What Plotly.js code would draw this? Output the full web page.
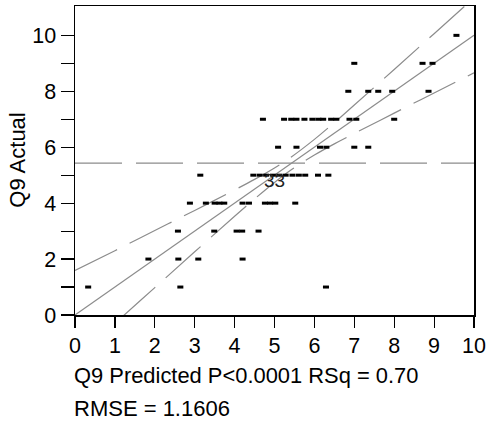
<!DOCTYPE html>
<html>
<head>
<meta charset="utf-8">
<script src="https://cdn.plot.ly/plotly-3.0.1.min.js"></script>
<style>html,body{margin:0;padding:0;background:#fff;}#chart{width:486px;height:423px;}</style>
</head>
<body>
<div id="chart"></div>
<script>
// Points: predicted (x) and actual (y)
const predicted = [
  0.33, 2.64, 6.29,
  1.84, 2.59, 3.09, 4.20,
  2.58, 3.49, 4.05, 4.19, 4.60,
  2.88, 3.28, 3.50, 3.62, 3.74, 4.20, 4.36, 4.76, 4.89, 5.02, 5.52,
  3.14, 4.47, 4.63, 4.79, 4.96, 5.12, 5.28, 5.45, 5.61, 5.77, 6.09, 6.35,
  5.09, 5.55, 6.14, 6.30, 7.00, 7.35,
  4.71, 5.24, 5.42, 5.55, 5.75, 5.95, 6.10, 6.22, 6.42, 6.55, 6.88, 7.05, 8.00,
  6.85, 7.35, 7.60, 7.95, 8.86,
  7.00, 8.71, 8.96,
  9.56
];
const actual = [
  1, 1, 1,
  2, 2, 2, 2,
  3, 3, 3, 3, 3,
  4, 4, 4, 4, 4, 4, 4, 4, 4, 4, 4,
  5, 5, 5, 5, 5, 5, 5, 5, 5, 5, 5, 5,
  6, 6, 6, 6, 6, 6,
  7, 7, 7, 7, 7, 7, 7, 7, 7, 7, 7, 7, 7,
  8, 8, 8, 8, 8,
  9, 9, 9,
  10
];
// Fit line (actual = predicted)
const fitX = [0, 10];
const fitY = [0, 10];
// Mean of actual
const meanX = [0, 10];
const meanY = [5.43, 5.43];
// Confidence curves
const bandX = [0, 1, 2, 3, 4, 4.5, 5, 5.43, 6, 6.5, 7, 8, 9, 10];
const bandUpper = [1.59, 2.30, 3.02, 3.74, 4.47, 4.85, 5.26, 5.66, 6.28, 6.88, 7.51, 8.78, 10.06, 11.34];
const bandLower = [-1.59, -0.30, 0.98, 2.26, 3.53, 4.15, 4.74, 5.20, 5.72, 6.12, 6.49, 7.22, 7.94, 8.66];
// Tick labels
const xTicks = [0,1,2,3,4,5,6,7,8,9,10];
const yTicks = [0,1,2,3,4,5,6,7,8,9,10];
const yTickText = ['0','','2','','4','','6','','8','','10'];
const xLabelLine1 = 'Q9 Predicted P<0.0001 RSq = 0.70';
const xLabelLine2 = 'RMSE = 1.1606';
const yLabel = 'Q9 Actual';
const pointLabel = '33';

const FONT = 'Liberation Sans, Arial, Helvetica, sans-serif';
const GRAY = '#8c8c8c';
const DASH = '47px,14px';

const traces = [
  {x: meanX, y: meanY, mode: 'lines', line: {color: GRAY, width: 1.2, dash: DASH}, hoverinfo: 'skip'},
  {x: bandX, y: bandUpper, mode: 'lines', line: {color: GRAY, width: 1.2, dash: DASH, shape: 'spline'}, hoverinfo: 'skip'},
  {x: bandX, y: bandLower, mode: 'lines', line: {color: GRAY, width: 1.2, dash: DASH, shape: 'spline'}, hoverinfo: 'skip'},
  {x: fitX, y: fitY, mode: 'lines', line: {color: GRAY, width: 1.2}, hoverinfo: 'skip'},
  {x: predicted, y: actual, mode: 'markers', cliponaxis: false,
   marker: {symbol: 'line-ew', size: 4.3, color: '#000', line: {color: '#000', width: 3}}}
];

const layout = {
  width: 486, height: 423,
  margin: {l: 75, r: 12, t: 6, b: 108},
  showlegend: false,
  paper_bgcolor: '#fff', plot_bgcolor: '#fff',
  font: {family: FONT, size: 22, color: '#000'},
  xaxis: {
    range: [0, 10], tickvals: xTicks, ticktext: xTicks.map(String),
    ticks: 'outside', ticklen: 11, tickwidth: 1.2, tickcolor: '#000',
    showline: true, linecolor: '#000', linewidth: 1.5, mirror: true,
    showgrid: false, zeroline: false,
    tickfont: {family: FONT, size: 21.5, color: '#000'}
  },
  yaxis: {
    range: [0, 11.05], tickvals: yTicks, ticktext: yTickText,
    ticks: 'outside', ticklen: 13, tickwidth: 1.2, tickcolor: '#000',
    showline: true, linecolor: '#000', linewidth: 1.5, mirror: true,
    showgrid: false, zeroline: false,
    tickfont: {family: FONT, size: 21.5, color: '#000'}
  },
  annotations: [
    {xref: 'paper', yref: 'paper', x: -0.008, y: -0.196, xanchor: 'left', yanchor: 'middle',
     text: xLabelLine1, showarrow: false, font: {family: FONT, size: 21.9, color: '#000'}},
    {xref: 'paper', yref: 'paper', x: -0.008, y: -0.303, xanchor: 'left', yanchor: 'middle',
     text: xLabelLine2, showarrow: false, font: {family: FONT, size: 22, color: '#000'}},
    {xref: 'paper', yref: 'paper', x: -0.145, y: 0.5, xanchor: 'center', yanchor: 'middle',
     textangle: -90, text: yLabel, showarrow: false, font: {family: FONT, size: 22, color: '#000'}},
    {xref: 'x', yref: 'y', x: 4.99, y: 4.82, xanchor: 'center', yanchor: 'middle',
     text: pointLabel, showarrow: false, font: {family: FONT, size: 19, color: '#222'}}
  ]
};

Plotly.newPlot('chart', traces, layout, {staticPlot: true, displayModeBar: false});
</script>
</body>
</html>
